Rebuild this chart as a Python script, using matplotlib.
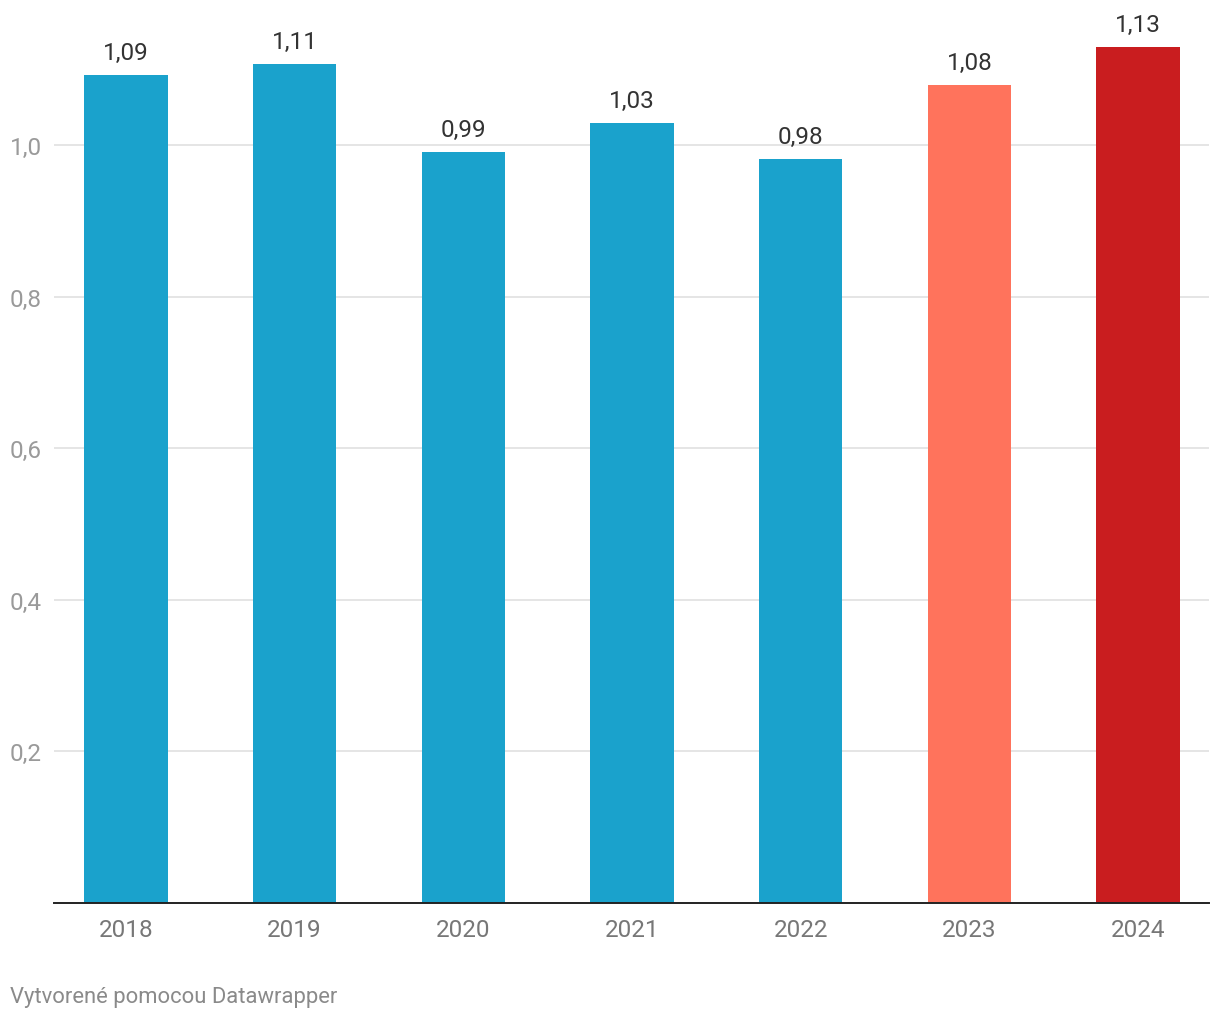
import matplotlib
matplotlib.use("Agg")
import matplotlib.pyplot as plt

years = ["2018", "2019", "2020", "2021", "2022", "2023", "2024"]
values = [1.092, 1.107, 0.991, 1.029, 0.981, 1.079, 1.129]
labels = ["1,09", "1,11", "0,99", "1,03", "0,98", "1,08", "1,13"]
colors = ["#1aa2cc"] * 5 + ["#ff735c", "#c91d1f"]
yticks = [0.2, 0.4, 0.6, 0.8, 1.0]
ytick_labels = ["0,2", "0,4", "0,6", "0,8", "1,0"]
footer = "Vytvorené pomocou Datawrapper"

plt.rcParams['font.family'] = ['Roboto', 'DejaVu Sans']

fig = plt.figure(figsize=(12.2, 10.2), dpi=100)
ax = fig.add_axes([54/1220, 1 - 903.5/1020, (1209-54)/1220, 903.5/1020])

x = list(range(len(years)))
ax.bar(x, values, width=0.495, color=colors, zorder=3)
for xi, v, lab in zip(x, values, labels):
    ax.annotate(lab, (xi, v), xytext=(0, 16), textcoords='offset pixels',
                ha='center', va='baseline', fontsize=17.5, color='#333333')

ax.set_xlim(-0.427, 6.421)
ax.set_ylim(0, 903.5/757.5)
ax.set_yticks(yticks)
ax.set_yticklabels(ytick_labels)
ax.set_xticks(x)
ax.set_xticklabels(years)
ax.grid(axis='y', color='#e3e3e3', linewidth=1.3, zorder=0)
for s in ['top', 'right', 'left']:
    ax.spines[s].set_visible(False)
ax.spines['bottom'].set_color('#222222')
ax.spines['bottom'].set_linewidth(1.4)
ax.spines['bottom'].set_zorder(4)
ax.tick_params(axis='y', length=0, pad=31.7, labelsize=17.5, labelcolor='#9a9a9a')
ax.tick_params(axis='x', length=0, pad=11.5, labelsize=17.5, labelcolor='#777777')
for t in ax.get_yticklabels():
    t.set_horizontalalignment('left')

fig.text(10/1220, 1 - 998/1020, footer, ha='left', va='center', fontsize=15.8, color='#8a8a8a')

fig.savefig("out.png", dpi=100)
